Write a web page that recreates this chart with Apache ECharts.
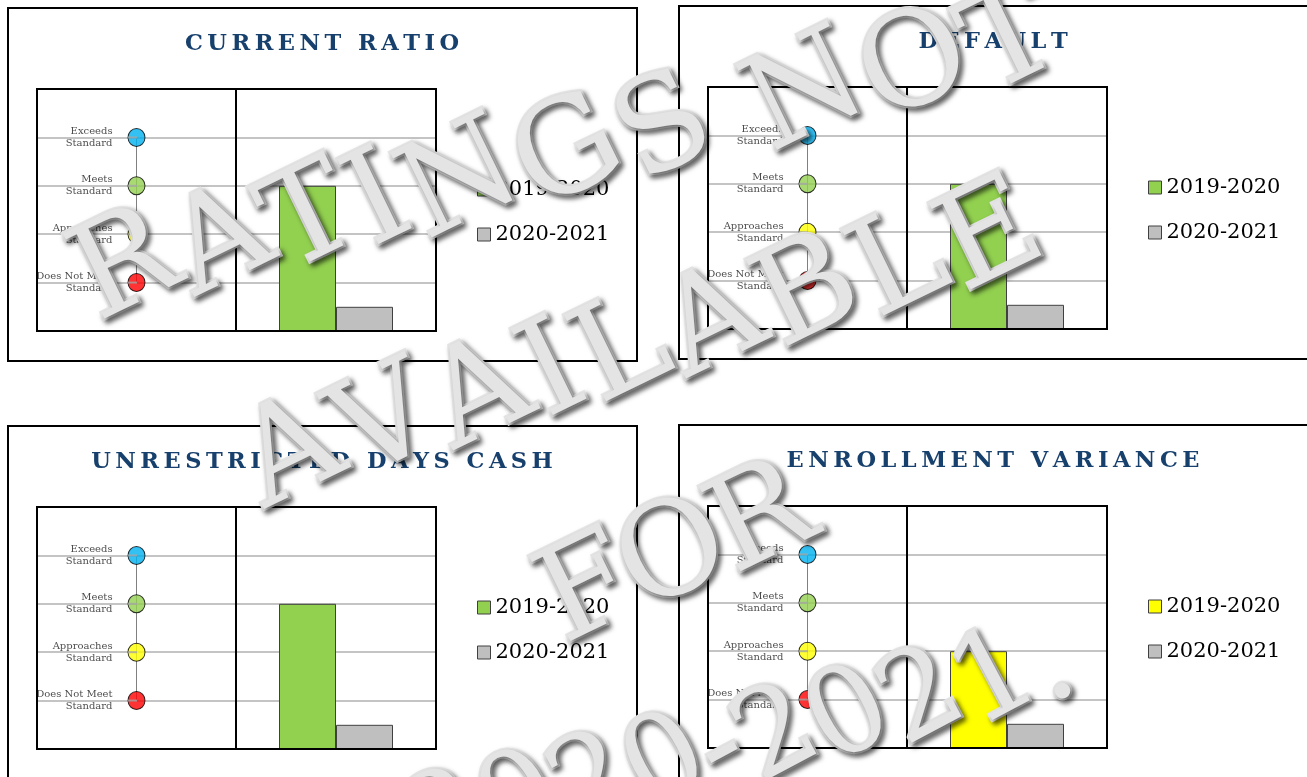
<!DOCTYPE html>
<html>
<head>
<meta charset="utf-8">
<style>
  html, body { margin: 0; padding: 0; background: #fff; }
  #chart { width: 1307px; height: 777px; }
</style>
<script src="https://cdn.jsdelivr.net/npm/echarts@6/dist/echarts.min.js"></script>
</head>
<body>
<div id="chart"></div>
<script>
// ---- data ----
const panelTitles = ['CURRENT RATIO', 'DEFAULT', 'UNRESTRICTED DAYS CASH', 'ENROLLMENT VARIANCE'];
const seasons = ['2019-2020', '2020-2021'];
const rating2019 = [3, 3, 3, 2];
const rating2020 = [0.5, 0.5, 0.5, 0.5];
const color2019 = ['#92d050', '#92d050', '#92d050', '#ffff00'];
const levelNames = ['Does Not Meet\nStandard', 'Approaches\nStandard', 'Meets\nStandard', 'Exceeds\nStandard'];
const levelValues = [1, 2, 3, 4];
const levelColors = ['#ff0000', '#ffff00', '#92d050', '#00b0f0'];
const watermarkLines = ['RATINGS NOT', 'AVAILABLE', 'FOR', '2020-2021.'];

// ---- layout ----
const panelOrigins = [[8, 8], [679, 6], [8, 426], [679, 425]];
const PANEL_W = 629, PANEL_H = 353;
const BOX_L = 29, BOX_T = 81, LEFT_W = 199, RIGHT_W = 200, BOX_H = 242;
const serif = '"DejaVu Serif", "Liberation Serif", serif';
const titleColor = '#17406d';
const gridLineColor = '#c4c4c4';

// watermark baseline start/end, font size, letter tilt (deg)
const wmLayout = [
  { x0: 98, y0: 322, x1: 1075, y1: 74, size: 130, rot: 26 },
  { x0: 265, y0: 512, x1: 1060, y1: 266, size: 132, rot: 26 },
  { x0: 570, y0: 650, x1: 825, y1: 545, size: 130, rot: 26 },
  { x0: 432, y0: 868, x1: 1088, y1: 700, size: 120, rot: 28 }
];

function spaced(s) {
  return s.split('').join('\u2009');
}

const grids = [], xAxes = [], yAxes = [], series = [], legends = [], graphics = [];

panelOrigins.forEach(([ox, oy], i) => {
  const left = ox + BOX_L, top = oy + BOX_T;
  const yAxisBase = {
    type: 'value', min: 0, max: 5, interval: 1,
    axisLine: { show: false }, axisTick: { show: false }, axisLabel: { show: false },
    splitLine: { show: true, showMinLine: false, showMaxLine: false,
      lineStyle: { color: gridLineColor, width: 2 } }
  };

  // scale column
  grids.push({ left: left, top: top, width: LEFT_W, height: BOX_H });
  xAxes.push({ gridIndex: 2 * i, type: 'value', min: 0, max: 1, show: false });
  yAxes.push(Object.assign({ gridIndex: 2 * i }, yAxisBase));

  // bar area
  grids.push({ left: left + LEFT_W, top: top, width: RIGHT_W, height: BOX_H });
  xAxes.push({ gridIndex: 2 * i + 1, type: 'category', data: [''], show: false });
  yAxes.push(Object.assign({ gridIndex: 2 * i + 1 }, yAxisBase));

  const pts = levelValues.map(v => [0.5, v]);
  series.push({
    type: 'line', xAxisIndex: 2 * i, yAxisIndex: 2 * i, data: pts,
    symbol: 'none', silent: true, z: 2,
    lineStyle: { color: '#808080', width: 1 }
  });
  series.push({
    type: 'scatter', xAxisIndex: 2 * i, yAxisIndex: 2 * i, z: 3,
    symbol: 'circle', symbolSize: [17, 18],
    data: levelValues.map((v, k) => ({
      value: [0.5, v],
      itemStyle: { color: levelColors[k], borderColor: '#000', borderWidth: 1 }
    })),
    label: {
      show: true, position: 'left', distance: 15,
      formatter: p => levelNames[p.dataIndex],
      fontFamily: serif, fontSize: 10, lineHeight: 12, color: '#1a1a1a', align: 'right'
    }
  });
  series.push({
    type: 'scatter', xAxisIndex: 2 * i, yAxisIndex: 2 * i, z: 4, silent: true,
    symbol: 'rect', symbolSize: [9, 2], symbolOffset: [-4, 0],
    itemStyle: { color: '#a6a6a6' },
    data: pts
  });

  series.push({
    type: 'bar', name: seasons[0], xAxisIndex: 2 * i + 1, yAxisIndex: 2 * i + 1,
    data: [rating2019[i]], barWidth: '28.5%', barGap: '0%',
    itemStyle: { color: color2019[i], borderColor: '#404040', borderWidth: 1 }
  });
  series.push({
    type: 'bar', name: seasons[1], xAxisIndex: 2 * i + 1, yAxisIndex: 2 * i + 1,
    data: [rating2020[i]], barWidth: '28.5%', barGap: '0%',
    itemStyle: { color: '#bfbfbf', borderColor: '#404040', borderWidth: 1 }
  });

  legends.push({
    orient: 'vertical', left: ox + 469, top: oy + 171, padding: 0,
    icon: 'rect', itemWidth: 13, itemHeight: 13, itemGap: 24,
    selectedMode: false,
    data: [
      { name: seasons[0], itemStyle: { color: color2019[i], borderColor: '#404040', borderWidth: 1 } },
      { name: seasons[1], itemStyle: { color: '#bfbfbf', borderColor: '#404040', borderWidth: 1 } }
    ],
    textStyle: { fontFamily: serif, fontSize: 21, color: '#000' }
  });

  // panel frame, plot frame, divider, title
  graphics.push({
    type: 'rect', z: 10, silent: true,
    shape: { x: ox, y: oy, width: PANEL_W, height: PANEL_H },
    style: { fill: 'none', stroke: '#000', lineWidth: 2 }
  });
  graphics.push({
    type: 'rect', z: 10, silent: true,
    shape: { x: left, y: top, width: LEFT_W + RIGHT_W, height: BOX_H },
    style: { fill: 'none', stroke: '#000', lineWidth: 2 }
  });
  graphics.push({
    type: 'line', z: 10, silent: true,
    shape: { x1: left + LEFT_W, y1: top, x2: left + LEFT_W, y2: top + BOX_H },
    style: { stroke: '#000', lineWidth: 2 }
  });
  graphics.push({
    type: 'text', z: 10, silent: true, x: ox + 314, y: oy + 36,
    style: {
      text: spaced(panelTitles[i]), fill: titleColor,
      font: 'bold 22.5px ' + serif,
      align: 'center', verticalAlign: 'middle',
      textAlign: 'center', textVerticalAlign: 'middle'
    }
  });
});

// ---- watermark: letters laid along a rising baseline ----
const measure = document.createElement('canvas').getContext('2d');
watermarkLines.forEach((line, li) => {
  const L = wmLayout[li];
  const font = L.size + 'px ' + serif;
  measure.font = font;
  const chars = line.split('');
  const widths = chars.map(c => measure.measureText(c).width);
  const total = widths.reduce((a, b) => a + b, 0);
  const dx = L.x1 - L.x0, dy = L.y1 - L.y0;
  const len = Math.sqrt(dx * dx + dy * dy);
  const k = len / total;
  const ux = dx / len, uy = dy / len;
  const r = L.rot * Math.PI / 180;
  const upx = -Math.sin(r), upy = -Math.cos(r);
  let cum = 0;
  chars.forEach((c, ci) => {
    const along = (cum + widths[ci] / 2) * k;
    cum += widths[ci];
    if (c === ' ') return;
    graphics.push({
      type: 'text', z: 100, silent: true,
      x: L.x0 + ux * along + upx * 0.34 * L.size,
      y: L.y0 + uy * along + upy * 0.34 * L.size,
      rotation: r,
      style: {
        text: c, font: font, fill: '#e4e4e4',
        stroke: '#e4e4e4', lineWidth: 4,
        align: 'center', verticalAlign: 'middle',
        textAlign: 'center', textVerticalAlign: 'middle',
        textShadowColor: 'rgba(0,0,0,0.55)', textShadowBlur: 5,
        textShadowOffsetX: 3, textShadowOffsetY: 3
      }
    });
  });
});

const chart = echarts.init(document.getElementById('chart'), null, { renderer: 'canvas' });
chart.setOption({
  animation: false,
  backgroundColor: '#fff',
  grid: grids,
  xAxis: xAxes,
  yAxis: yAxes,
  legend: legends,
  series: series,
  graphic: { elements: graphics }
});
</script>
</body>
</html>
